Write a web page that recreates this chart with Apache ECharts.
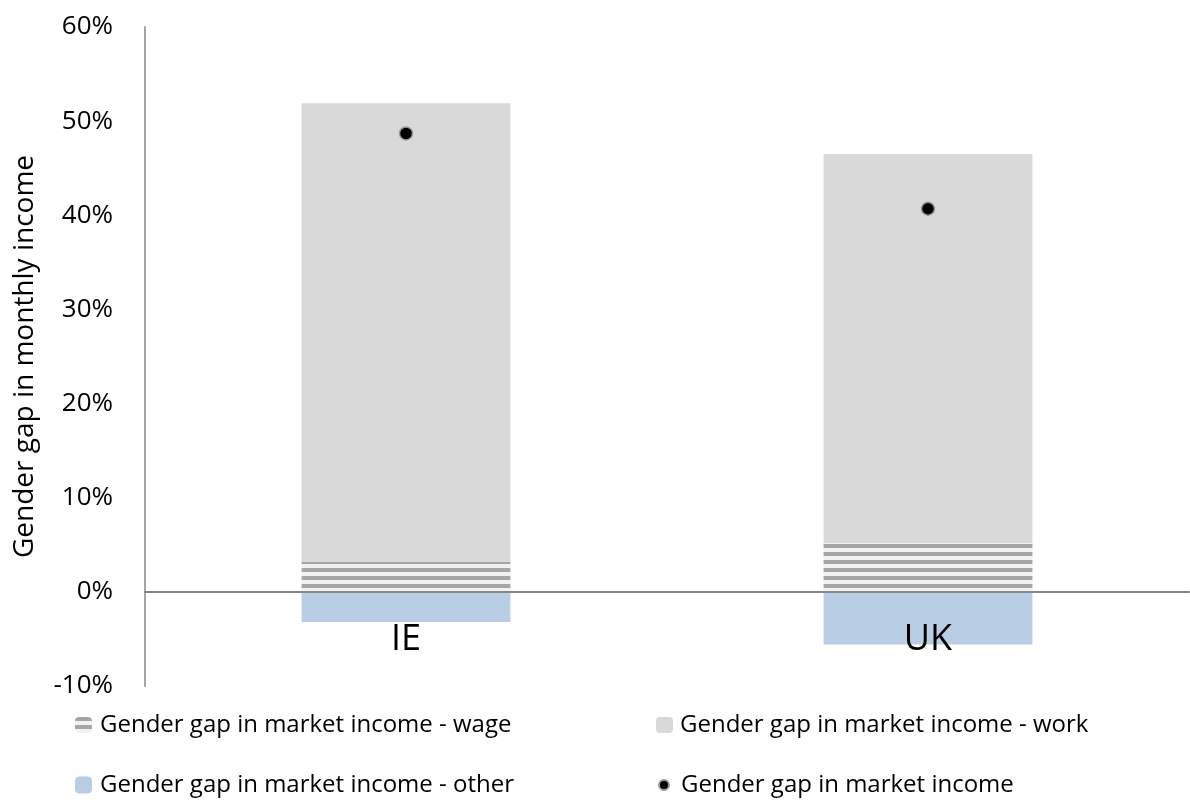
<!DOCTYPE html>
<html>
<head>
<meta charset="utf-8">
<script src="https://cdn.jsdelivr.net/npm/echarts@6/dist/echarts.min.js"></script>
<style>
  html, body { margin: 0; padding: 0; background: #ffffff; }
  #chart { width: 1190px; height: 810px; }
</style>
</head>
<body>
<div id="chart"></div>
<script>
// Gender gap in monthly income, decomposed by component (percent)
const categories = ['IE', 'UK'];
const wageGap = [3.2, 5.2];
const workGap = [48.7, 41.3];
const otherGap = [-3.2, -5.6];
const marketGap = [48.7, 40.7];
const yTicks = { min: -10, max: 60, interval: 10 };

const seriesNames = [
  'Gender gap in market income - wage',
  'Gender gap in market income - work',
  'Gender gap in market income - other',
  'Gender gap in market income'
];

const FONT = '"Open Sans", "Noto Sans", sans-serif';

// Narrow horizontal stripe fill for the wage component
function stripePattern() {
  const c = document.createElement('canvas');
  c.width = 8; c.height = 8;
  const ctx = c.getContext('2d');
  ctx.fillStyle = '#f2f2f2';
  ctx.fillRect(0, 0, 8, 8);
  ctx.fillStyle = '#a6a6a6';
  ctx.fillRect(0, 0, 8, 4);
  return { image: c, repeat: 'repeat' };
}

const chart = echarts.init(document.getElementById('chart'), null, { renderer: 'canvas' });

const legendText = { fontFamily: FONT, fontSize: 24, color: '#000000', lineHeight: 30 };

// one legend per entry so each icon can have its own size and place
function legendEntry(name, left, top, w, h, textPad) {
  return {
    orient: 'horizontal', left: left, top: top, padding: 0,
    itemWidth: w, itemHeight: h,
    textStyle: Object.assign({ padding: [0, 0, 0, textPad] }, legendText),
    data: [name]
  };
}

chart.setOption({
  animation: false,
  backgroundColor: '#ffffff',
  grid: {
    left: 145, right: 1, top: 27, bottom: 124,
    containLabel: false, outerBoundsMode: 'none'
  },
  legend: [
    legendEntry(seriesNames[0], 75, 710, 17, 16, 3),
    legendEntry(seriesNames[2], 75, 770, 17, 17, 3),
    legendEntry(seriesNames[1], 656, 710, 17, 16, 2),
    legendEntry({ name: seriesNames[3], icon: 'circle' }, 658, 770, 10, 10, 7)
  ],
  xAxis: {
    type: 'category',
    data: categories,
    z: 10,
    axisLine: { onZero: true, lineStyle: { color: '#868686', width: 2 } },
    axisTick: { show: false },
    axisLabel: { fontFamily: FONT, fontSize: 36, color: '#000000', margin: -64 },
    splitLine: { show: false }
  },
  yAxis: {
    type: 'value',
    min: yTicks.min, max: yTicks.max, interval: yTicks.interval,
    name: 'Gender gap in monthly income',
    nameLocation: 'middle',
    nameGap: 106,
    nameRotate: 90,
    nameTextStyle: { fontFamily: FONT, fontSize: 28, color: '#000000' },
    axisLine: { show: true, lineStyle: { color: '#a6a6a6', width: 2 } },
    axisTick: { show: false },
    splitLine: { show: false },
    axisLabel: {
      fontFamily: FONT, fontSize: 26, color: '#000000', margin: 32,
      formatter: '{value}%'
    }
  },
  series: [
    {
      name: seriesNames[0], type: 'bar', stack: 'gap', barWidth: '40%',
      itemStyle: { color: stripePattern() },
      data: wageGap
    },
    {
      name: seriesNames[1], type: 'bar', stack: 'gap', barWidth: '40%',
      itemStyle: { color: '#d9d9d9' },
      data: workGap
    },
    {
      name: seriesNames[2], type: 'bar', stack: 'gap', barWidth: '40%',
      itemStyle: { color: '#b9cde5' },
      data: otherGap
    },
    {
      name: seriesNames[3], type: 'scatter', symbol: 'circle', symbolSize: 13,
      itemStyle: { color: '#000000', borderColor: '#9a9a9a', borderWidth: 1.5, opacity: 1 },
      z: 5,
      data: marketGap
    }
  ]
});
</script>
</body>
</html>
